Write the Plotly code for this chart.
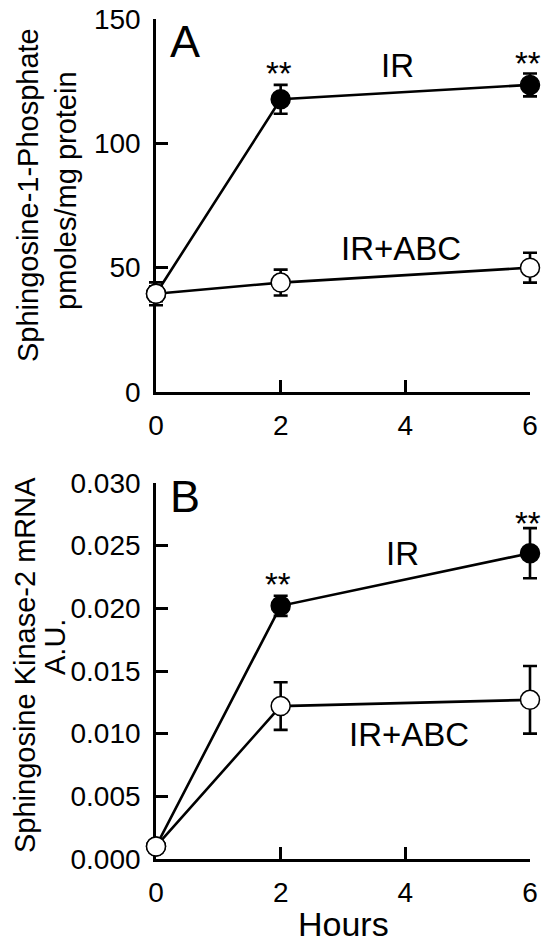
import plotly.graph_objects as go

# ---------------- data ----------------
hours = [0, 2, 6]

# Panel A: Sphingosine-1-Phosphate (pmoles/mg protein)
s1p_ir = [39.5, 117.7, 123.5]
s1p_ir_err = [4.6, 5.8, 4.6]
s1p_abc = [39.5, 44.0, 50.0]
s1p_abc_err = [3.0, 5.2, 6.0]

# Panel B: Sphingosine Kinase-2 mRNA (A.U.)
sk2_ir = [0.001, 0.0202, 0.0244]
sk2_ir_err = [0.0003, 0.0008, 0.0020]
sk2_abc = [0.001, 0.0122, 0.0127]
sk2_abc_err = [0.0003, 0.0019, 0.0027]

x_ticks = [0, 2, 4, 6]
a_ticks = [0, 50, 100, 150]
b_ticks = [0.000, 0.005, 0.010, 0.015, 0.020, 0.025, 0.030]
b_tick_labels = ["0.000", "0.005", "0.010", "0.015", "0.020", "0.025", "0.030"]

FONT = "Liberation Sans, Arial, Helvetica, sans-serif"

# The page body has an 8px margin: make the figure fit exactly in the window
OFF = 8
W, H = 549 - 2 * OFF, 951 - 2 * OFF

# target pixel layout (page coordinates) converted to figure coordinates
X0, X1 = 156 - OFF, 530 - OFF          # x = 0 .. 6
PADL = 12
PADR = min(12, W - X1)                 # room so error-bar caps at x=6 are not clipped
A_TOP, A_BOT = 19 - OFF, 392 - OFF
B_TOP, B_BOT = 483 - OFF, 859 - OFF
pxu = (X1 - X0) / 6.0

fig = go.Figure()


def add_series(y, err, xa, ya, filled):
    fig.add_trace(go.Scatter(
        x=hours, y=y, xaxis=xa, yaxis=ya, mode="lines+markers",
        line=dict(color="black", width=2.6),
        marker=dict(size=19, color="black" if filled else "white",
                    line=dict(color="black", width=1.5)),
        error_y=dict(type="data", array=err, visible=True, color="black",
                     thickness=2.6, width=7),
        cliponaxis=False, showlegend=False, hoverinfo="skip"))


add_series(s1p_ir, s1p_ir_err, "x3", "y", True)
add_series(s1p_abc, s1p_abc_err, "x3", "y", False)
add_series(sk2_ir, sk2_ir_err, "x4", "y2", True)
add_series(sk2_abc, sk2_abc_err, "x4", "y2", False)

xdom = [X0 / W, X1 / W]
xdom_data = [(X0 - PADL) / W, (X1 + PADR) / W]
xrange_data = [-PADL / pxu, 6 + PADR / pxu]
ydomA = [(H - A_BOT) / H, (H - A_TOP) / H]
ydomB = [(H - B_BOT) / H, (H - B_TOP) / H]

axis_common = dict(showline=True, linecolor="black", linewidth=2.6,
                   ticks="inside", ticklen=12, tickwidth=2.6, tickcolor="black",
                   showgrid=False, zeroline=False, automargin=False,
                   ticklabeloverflow="allow",
                   tickfont=dict(family=FONT, size=28, color="black"))
hidden = dict(visible=False, showgrid=False, zeroline=False, automargin=False,
              fixedrange=True)

fig.update_layout(
    template="none",
    width=W, height=H, margin=dict(l=0, r=0, t=0, b=0, pad=0),
    paper_bgcolor="white", plot_bgcolor="rgba(0,0,0,0)",
    xaxis=dict(domain=xdom, range=[0, 6], tickvals=x_ticks, anchor="y",
               ticklabelstandoff=7, **axis_common),
    yaxis=dict(domain=ydomA, range=[0, 150], tickvals=a_ticks, anchor="x",
               ticklabelstandoff=7, **axis_common),
    xaxis2=dict(domain=xdom, range=[0, 6], tickvals=x_ticks, anchor="y2",
                ticklabelstandoff=7, **axis_common),
    yaxis2=dict(domain=ydomB, range=[0, 0.030], tickvals=b_ticks,
                ticktext=b_tick_labels, anchor="x2",
                ticklabelstandoff=7, **axis_common),
    xaxis3=dict(domain=xdom_data, range=xrange_data, anchor="y", **hidden),
    xaxis4=dict(domain=xdom_data, range=xrange_data, anchor="y2", **hidden),
)


def txt(x, y, s, size, xref="x", yref="y", angle=0):
    fig.add_annotation(x=x, y=y, xref=xref, yref=yref, text=s, showarrow=False,
                       textangle=angle, xanchor="center", yanchor="middle",
                       font=dict(family=FONT, size=size, color="black"))


# Panel A labels
txt(0.47, 141.0, "A", 45)
txt(3.87, 131.2, "IR", 33)
txt(3.93, 57.8, "IR+ABC", 33)
txt(1.97, 128.0, "**", 33)
txt(5.97, 132.0, "**", 33)

# Panel B labels
txt(0.47, 0.0289, "B", 45, "x2", "y2")
txt(3.95, 0.02434, "IR", 33, "x2", "y2")
txt(4.06, 0.00997, "IR+ABC", 33, "x2", "y2")
txt(1.96, 0.0219, "**", 33, "x2", "y2")
txt(5.97, 0.0268, "**", 33, "x2", "y2")


# Axis titles (positioned in page pixel space)
def ptxt(px, py, s, size, angle=0):
    txt((px - OFF) / W, (H - (py - OFF)) / H, s, size, "paper", "paper", angle)


ptxt(28, 195, "Sphingosine-1-Phosphate", 29, -90)
ptxt(66, 191, "pmoles/mg protein", 29, -90)
ptxt(25, 665, "Sphingosine Kinase-2 mRNA", 29, -90)
ptxt(55, 647, "A.U.", 29, -90)
ptxt(343, 924, "Hours", 34)

fig.write_html("out.html")
